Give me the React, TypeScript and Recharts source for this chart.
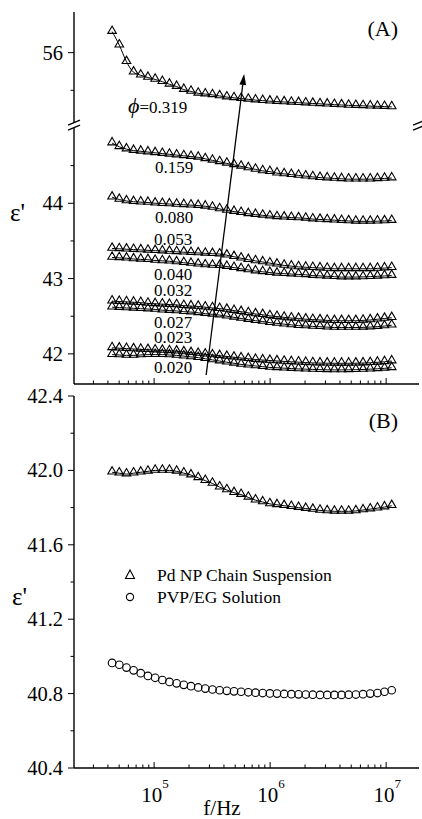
import React from 'react';
import { ComposedChart, Line, XAxis, YAxis, ReferenceLine, ReferenceDot, Legend } from 'recharts';

// measured frequencies (Hz)
const FREQ_HZ = [
  43450, 50120, 57810, 66530, 76740, 88520, 102100, 117800, 135600, 156400,
  180300, 208000, 239900, 276100, 318400, 367300, 423600, 488600, 562300, 648600,
  748200, 863000, 995400, 1146000, 1321000, 1524000, 1758000, 2028000, 2333000, 2692000,
  3105000, 3581000, 4130000, 4753000, 5483000, 6324000, 7295000, 8414000, 9683000, 11170000,
];

// panel A: eps' for each volume fraction
const PHI_0319 = [
  56.28, 56.1, 55.88, 55.74, 55.7, 55.67, 55.645, 55.615, 55.58, 55.55,
  55.51, 55.485, 55.46, 55.45, 55.44, 55.425, 55.41, 55.4, 55.39, 55.38,
  55.37, 55.363, 55.355, 55.35, 55.345, 55.34, 55.335, 55.33, 55.325, 55.32,
  55.315, 55.31, 55.305, 55.3, 55.297, 55.294, 55.29, 55.287, 55.284, 55.28,
];
const PHI_0159 = [
  44.8, 44.75, 44.72, 44.7, 44.69, 44.68, 44.67, 44.66, 44.65, 44.64,
  44.63, 44.62, 44.61, 44.59, 44.57, 44.55, 44.53, 44.51, 44.49, 44.47,
  44.45, 44.43, 44.42, 44.4, 44.39, 44.38, 44.37, 44.36, 44.35, 44.34,
  44.335, 44.33, 44.325, 44.32, 44.32, 44.32, 44.32, 44.325, 44.33, 44.335,
];
const PHI_0080 = [
  44.08, 44.05, 44.03, 44.02, 44.015, 44.01, 44.0, 43.995, 43.99, 43.985,
  43.98, 43.975, 43.97, 43.96, 43.945, 43.925, 43.905, 43.89, 43.875, 43.86,
  43.85, 43.84, 43.83, 43.82, 43.815, 43.81, 43.805, 43.8, 43.79, 43.785,
  43.78, 43.775, 43.77, 43.765, 43.76, 43.76, 43.76, 43.762, 43.765, 43.77,
];
const PHI_0053 = [
  43.4, 43.395, 43.39, 43.385, 43.38, 43.375, 43.37, 43.365, 43.36, 43.355,
  43.35, 43.345, 43.34, 43.335, 43.33, 43.325, 43.31, 43.29, 43.27, 43.25,
  43.235, 43.22, 43.205, 43.19, 43.175, 43.165, 43.155, 43.15, 43.145, 43.14,
  43.135, 43.13, 43.13, 43.13, 43.13, 43.13, 43.13, 43.135, 43.14, 43.145,
];
const PHI_0040 = [
  43.28, 43.275, 43.27, 43.26, 43.255, 43.25, 43.24, 43.235, 43.23, 43.22,
  43.21, 43.2, 43.19, 43.18, 43.175, 43.17, 43.16, 43.145, 43.13, 43.115,
  43.1, 43.09, 43.08, 43.07, 43.065, 43.06, 43.055, 43.05, 43.04, 43.035,
  43.03, 43.025, 43.02, 43.02, 43.02, 43.022, 43.025, 43.03, 43.035, 43.04,
];
const PHI_0032 = [
  42.7, 42.695, 42.69, 42.685, 42.68, 42.67, 42.665, 42.66, 42.655, 42.65,
  42.64, 42.635, 42.63, 42.62, 42.61, 42.6, 42.59, 42.575, 42.56, 42.545,
  42.53, 42.52, 42.505, 42.495, 42.485, 42.475, 42.47, 42.46, 42.455, 42.45,
  42.445, 42.44, 42.44, 42.44, 42.44, 42.445, 42.45, 42.46, 42.47, 42.48,
];
const PHI_0027 = [
  42.62, 42.615, 42.61, 42.605, 42.6, 42.595, 42.59, 42.58, 42.575, 42.57,
  42.56, 42.555, 42.545, 42.535, 42.525, 42.515, 42.5, 42.485, 42.47, 42.455,
  42.44, 42.43, 42.415, 42.405, 42.395, 42.385, 42.375, 42.37, 42.365, 42.36,
  42.355, 42.35, 42.35, 42.35, 42.35, 42.352, 42.356, 42.362, 42.37, 42.38,
];
const PHI_0023 = [
  42.08, 42.075, 42.07, 42.065, 42.06, 42.055, 42.05, 42.045, 42.04, 42.035,
  42.025, 42.015, 42.005, 41.995, 41.985, 41.975, 41.965, 41.955, 41.945, 41.935,
  41.925, 41.918, 41.912, 41.906, 41.9, 41.895, 41.89, 41.885, 41.88, 41.878,
  41.876, 41.875, 41.875, 41.875, 41.876, 41.878, 41.882, 41.888, 41.895, 41.905,
];
const PHI_0020 = [
  41.99, 41.985, 41.98, 41.98, 41.985, 41.99, 41.99, 41.99, 41.985, 41.98,
  41.97, 41.96, 41.95, 41.935, 41.92, 41.905, 41.89, 41.875, 41.86, 41.85,
  41.84, 41.83, 41.82, 41.815, 41.81, 41.805, 41.8, 41.797, 41.794, 41.79,
  41.788, 41.787, 41.787, 41.788, 41.79, 41.793, 41.797, 41.802, 41.808, 41.815,
];

// panel B
const PD_NP_CHAIN = [
  41.99, 41.985, 41.98, 41.985, 41.99, 41.995, 42.0, 42.0, 42.0, 41.995,
  41.985, 41.975, 41.96, 41.945, 41.93, 41.91, 41.895, 41.88, 41.87, 41.855,
  41.84, 41.83, 41.82, 41.815, 41.81, 41.805, 41.8, 41.795, 41.79, 41.785,
  41.782, 41.78, 41.78, 41.78, 41.782, 41.787, 41.792, 41.797, 41.803, 41.81,
];
const PVP_EG = [
  40.965, 40.955, 40.94, 40.925, 40.91, 40.895, 40.885, 40.873, 40.863, 40.855,
  40.847, 40.84, 40.833, 40.827, 40.822, 40.818, 40.815, 40.812, 40.81, 40.807,
  40.805, 40.803, 40.801, 40.8, 40.798, 40.797, 40.796, 40.795, 40.794, 40.793,
  40.793, 40.793, 40.793, 40.794, 40.795, 40.797, 40.8, 40.803, 40.81, 40.818,
];

const PHI_KEYS = ['p0319', 'p0159', 'p0080', 'p0053', 'p0040', 'p0032', 'p0027', 'p0023', 'p0020'];
const PHI_SERIES = [PHI_0319, PHI_0159, PHI_0080, PHI_0053, PHI_0040, PHI_0032, PHI_0027, PHI_0023, PHI_0020];
const PHI_LABELS = ['=0.319', '0.159', '0.080', '0.053', '0.040', '0.032', '0.027', '0.023', '0.020'];
const LEGEND_LABELS = ['Pd NP Chain Suspension', 'PVP/EG Solution'];

// ticks
const X_MAJOR = [1e5, 1e6, 1e7];
const X_MINOR = [
  3e4, 4e4, 5e4, 6e4, 7e4, 8e4, 9e4,
  2e5, 3e5, 4e5, 5e5, 6e5, 7e5, 8e5, 9e5,
  2e6, 3e6, 4e6, 5e6, 6e6, 7e6, 8e6, 9e6,
];
const A_Y_MAJOR = [42, 43, 44, 56];
const A_Y_MINOR = [42.5, 43.5, 44.5, 55.5];
const B_Y_MAJOR = [40.4, 40.8, 41.2, 41.6, 42.0, 42.4];
const B_Y_MINOR = [40.6, 41.0, 41.4, 41.8, 42.2];

// axis break in panel A: values above the break are drawn shifted down
const BREAK_AT = 55.05;
const AXIS_SHIFT = 10;
const BREAK_PLOT = BREAK_AT - AXIS_SHIFT;
const toPlot = (v: number) => (v > BREAK_AT ? v - AXIS_SHIFT : v);

const X_DOMAIN: [number, number] = [2.04e4, 1.92e7];
const A_DOMAIN: [number, number] = [41.6, 46.54];
const B_DOMAIN: [number, number] = [40.4, 42.4];

// where the phi labels sit (frequency, eps' at baseline)
const LABEL_ANCHORS: [number, number][] = [
  [5.97e4, 55.2], [1.02e5, 44.4], [1.02e5, 43.738], [1.0e5, 43.446], [1.0e5, 42.98],
  [1.0e5, 42.769], [1.0e5, 42.344], [1.0e5, 42.145], [1.0e5, 41.746],
];
const ARROW: [number, number][] = [[2.81e5, 41.72], [5.97e5, 55.717]];

const FONT = 'Liberation Serif, Times New Roman, serif';
const AX = { stroke: '#000', strokeWidth: 1.4 };

const tableA = FREQ_HZ.map((f, i) => {
  const row: Record<string, number> = { f };
  PHI_KEYS.forEach((k, j) => { row[k] = toPlot(PHI_SERIES[j][i]); });
  return row;
});
const tableB = FREQ_HZ.map((f, i) => ({ f, pd: PD_NP_CHAIN[i], pvp: PVP_EG[i] }));

const triangleDot = (p: any) => {
  const { cx, cy, index } = p;
  if (cx == null || cy == null) return <g key={index} />;
  return (
    <path key={index} d={`M${cx},${cy - 5.6} L${cx + 4.3},${cy + 1.8} L${cx - 4.3},${cy + 1.8} Z`}
      fill="none" stroke="#000" strokeWidth={1.1} />
  );
};
const circleDot = (p: any) => {
  const { cx, cy, index } = p;
  if (cx == null || cy == null) return <g key={index} />;
  return <circle key={index} cx={cx} cy={cy} r={3.8} fill="none" stroke="#000" strokeWidth={1.1} />;
};

const xTick = (side: 'top' | 'bottom', labels: boolean) => (p: any) => {
  const { x, y, payload } = p;
  const v = payload.value;
  const major = X_MAJOR.includes(v);
  const len = major ? 6 : 3.5;
  const dir = side === 'bottom' ? -1 : 1;
  return (
    <g>
      <line x1={x} x2={x} y1={y} y2={y + dir * len} stroke="#000" strokeWidth={1} />
      {labels && major && (
        <text x={x + 1} y={y + 34} textAnchor="middle" fontFamily={FONT} fontSize={21} fill="#000">
          <tspan>10</tspan>
          <tspan dy={-14} fontSize={13}>{Math.round(Math.log10(v))}</tspan>
        </text>
      )}
    </g>
  );
};

const yTick = (majors: number[], fmt: ((v: number) => string) | null) => (p: any) => {
  const { x, y, payload } = p;
  const v = payload.value;
  const major = majors.includes(v);
  const len = major ? 6 : 3.5;
  return (
    <g>
      <line x1={x} x2={x - len} y1={y} y2={y} stroke="#000" strokeWidth={1} />
      {fmt && major && (
        <text x={x - 11} y={y + 7} textAnchor="end" fontFamily={FONT} fontSize={20.5} fill="#000">
          {fmt(v)}
        </text>
      )}
    </g>
  );
};

const breakMark = (p: any) => {
  const { cx, cy } = p;
  return (
    <g>
      <polygon points={`${cx - 6},${cy + 1} ${cx + 6},${cy - 4} ${cx + 6},${cy + 1} ${cx - 6},${cy + 6}`} fill="#fff" />
      <line x1={cx - 6} y1={cy + 1} x2={cx + 6} y2={cy - 4} stroke="#000" strokeWidth={1.3} />
      <line x1={cx - 6} y1={cy + 6} x2={cx + 6} y2={cy + 1} stroke="#000" strokeWidth={1.3} />
    </g>
  );
};

const arrowShape = (p: any) => {
  const { x1, y1, x2, y2 } = p;
  const ang = Math.atan2(y2 - y1, x2 - x1);
  const L = 11;
  const W = 3.4;
  const bx = x2 - L * Math.cos(ang);
  const by = y2 - L * Math.sin(ang);
  const nx = -Math.sin(ang) * W;
  const ny = Math.cos(ang) * W;
  return (
    <g>
      <line x1={x1} y1={y1} x2={bx} y2={by} stroke="#000" strokeWidth={1.3} />
      <polygon points={`${x2},${y2} ${bx + nx},${by + ny} ${bx - nx},${by - ny}`} fill="#000" />
    </g>
  );
};

// text hung off a corner point of the plot
const cornerText = (text: string, dx: number, dy: number, size: number, anchor = 'start') => (p: any) => (
  <text x={p.cx + dx} y={p.cy + dy} textAnchor={anchor} fontFamily={FONT} fontSize={size} fill="#000">{text}</text>
);

const renderLegend = () => (
  <div style={{ fontFamily: FONT, fontSize: 17.5, color: '#000' }}>
    {LEGEND_LABELS.map((label, i) => (
      <div key={label} style={{ display: 'flex', alignItems: 'center', height: 22 }}>
        <svg width={16} height={16}>
          {i === 0
            ? <path d="M8,3 L12.5,11.5 L3.5,11.5 Z" fill="none" stroke="#000" strokeWidth={1.1} />
            : <circle cx={8} cy={8} r={3.6} fill="none" stroke="#000" strokeWidth={1.1} />}
        </svg>
        <span style={{ marginLeft: 19, whiteSpace: 'nowrap' }}>{label}</span>
      </div>
    ))}
  </div>
);

const fmtA = (v: number) => String(v > BREAK_PLOT ? v + AXIS_SHIFT : v);
const fmtB = (v: number) => v.toFixed(1);

export default function App() {
  const aMajor = A_Y_MAJOR.map(toPlot);
  const aTicks = [...A_Y_MAJOR, ...A_Y_MINOR].map(toPlot);
  const xTicks = [...X_MAJOR, ...X_MINOR];
  const bTicks = [...B_Y_MAJOR, ...B_Y_MINOR];

  return (
    <div style={{ position: 'absolute', left: 0, top: 0, width: 422, height: 819, background: '#fff' }}>
      <ComposedChart width={422} height={390} data={tableA} margin={{ top: 12, right: 3, bottom: 0, left: 0 }}>
        <XAxis dataKey="f" type="number" scale="log" domain={X_DOMAIN} allowDataOverflow ticks={xTicks}
          interval={0} tickSize={0} tickMargin={0} height={6} axisLine={AX} tick={xTick('bottom', false)} />
        <XAxis xAxisId="top" orientation="top" dataKey="f" type="number" scale="log" domain={X_DOMAIN}
          allowDataOverflow ticks={xTicks} interval={0} tickSize={0} tickMargin={0} height={0} axisLine={AX}
          tick={xTick('top', false)} />
        <YAxis type="number" domain={A_DOMAIN} allowDataOverflow ticks={aTicks} interval={0} width={74}
          tickSize={0} tickMargin={0} axisLine={AX} tick={yTick(aMajor, fmtA)} />
        <YAxis yAxisId="right" orientation="right" type="number" domain={A_DOMAIN} allowDataOverflow
          ticks={aTicks} interval={0} width={0} tickSize={0} tickMargin={0} axisLine={AX} tick={yTick(aMajor, null)} />
        {PHI_KEYS.map((k) => (
          <Line key={k} dataKey={k} type="monotone" stroke="#000" strokeWidth={1} dot={triangleDot}
            activeDot={false} isAnimationActive={false} />
        ))}
        <ReferenceLine segment={ARROW.map(([x, y]) => ({ x, y: toPlot(y) }))} ifOverflow="visible" shape={arrowShape} />
        {PHI_LABELS.map((t, i) => (
          <ReferenceDot key={t} x={LABEL_ANCHORS[i][0]} y={toPlot(LABEL_ANCHORS[i][1])} r={0} ifOverflow="visible"
            shape={(p: any) => (
              <text x={p.cx} y={p.cy} fontFamily={FONT} fontSize={17} fill="#000">
                {i === 0 && <tspan fontStyle="italic" fontSize={22}>ϕ</tspan>}
                {t}
              </text>
            )} />
        ))}
        <ReferenceDot x={X_DOMAIN[0]} y={BREAK_PLOT} r={0} ifOverflow="visible" shape={breakMark} />
        <ReferenceDot x={X_DOMAIN[1]} y={BREAK_PLOT} r={0} ifOverflow="visible" shape={breakMark} />
        <ReferenceDot x={X_DOMAIN[1]} y={A_DOMAIN[1]} r={0} ifOverflow="visible" shape={cornerText('(A)', -21, 24, 22, 'end')} />
        <ReferenceDot x={X_DOMAIN[0]} y={A_DOMAIN[1]} r={0} ifOverflow="visible" shape={cornerText("ε'", -64, 209, 25)} />
      </ComposedChart>

      <div style={{ position: 'absolute', left: 0, top: 380 }}>
        <ComposedChart width={422} height={439} data={tableB} margin={{ top: 16, right: 3, bottom: 0, left: 0 }}>
          <XAxis dataKey="f" type="number" scale="log" domain={X_DOMAIN} allowDataOverflow ticks={xTicks}
            interval={0} tickSize={0} tickMargin={0} height={51} axisLine={AX} tick={xTick('bottom', true)} />
          <XAxis xAxisId="top" orientation="top" dataKey="f" type="number" scale="log" domain={X_DOMAIN}
            allowDataOverflow ticks={xTicks} interval={0} tickSize={0} tickMargin={0} height={0} axisLine={AX}
            tick={xTick('top', false)} />
          <YAxis type="number" domain={B_DOMAIN} allowDataOverflow ticks={bTicks} interval={0} width={74}
            tickSize={0} tickMargin={0} axisLine={AX} tick={yTick(B_Y_MAJOR, fmtB)} />
          <YAxis yAxisId="right" orientation="right" type="number" domain={B_DOMAIN} allowDataOverflow
            ticks={bTicks} interval={0} width={0} tickSize={0} tickMargin={0} axisLine={AX} tick={yTick(B_Y_MAJOR, null)} />
          <Line dataKey="pd" name={LEGEND_LABELS[0]} type="monotone" stroke="#000" strokeWidth={1}
            dot={triangleDot} activeDot={false} isAnimationActive={false} />
          <Line dataKey="pvp" name={LEGEND_LABELS[1]} type="monotone" stroke="none"
            dot={circleDot} activeDot={false} isAnimationActive={false} />
          <ReferenceDot x={X_DOMAIN[1]} y={B_DOMAIN[1]} r={0} ifOverflow="visible" shape={cornerText('(B)', -21, 32, 22, 'end')} />
          <ReferenceDot x={X_DOMAIN[0]} y={B_DOMAIN[1]} r={0} ifOverflow="visible" shape={cornerText("ε'", -62, 209, 25)} />
          <ReferenceDot x={X_DOMAIN[0]} y={B_DOMAIN[0]} r={0} ifOverflow="visible" shape={cornerText('f/Hz', 148, 47, 21, 'middle')} />
          <Legend layout="vertical" align="center" verticalAlign="middle" content={renderLegend}
            wrapperStyle={{ position: 'absolute', left: 122, top: 184, width: 280, height: 44 }} />
        </ComposedChart>
      </div>
    </div>
  );
}
